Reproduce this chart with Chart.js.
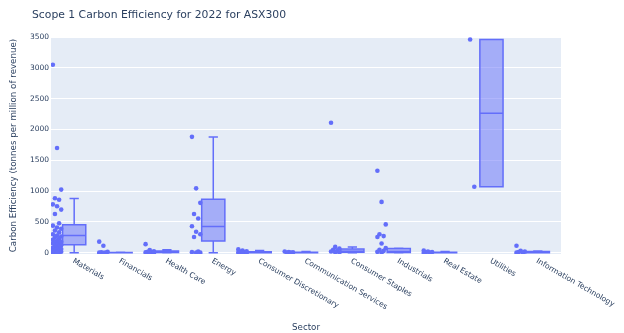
<!DOCTYPE html>
<html>
<head>
<meta charset="utf-8">
<script src="https://cdn.jsdelivr.net/npm/chart.js@4.4.1/dist/chart.umd.min.js"></script>
<style>
  html, body { margin: 0; padding: 0; background: #fff; }
  #wrap { width: 624px; height: 333px; }
</style>
</head>
<body>
<div id="wrap"><canvas id="chartScope1" width="624" height="333"></canvas></div>
<script>
// Scope 1 carbon efficiency by sector, ASX300, 2022
const TITLE = 'Scope 1 Carbon Efficiency for 2022 for ASX300';
const Y_TITLE = 'Carbon Efficiency (tonnes per million of revenue)';
const X_TITLE = 'Sector';

const sectors = [
  'Materials', 'Financials', 'Health Care', 'Energy', 'Consumer Discretionary',
  'Communication Services', 'Consumer Staples', 'Industrials', 'Real Estate',
  'Utilities', 'Information Technology',
];

// company-level values per sector
const materials = [3050, 1700, 1025, 885, 860, 785, 755, 700, 630, 480, 440, 410, 390, 360,
  330, 300, 280, 265, 250, 230, 210, 195, 180, 170, 160, 150, 135, 120, 105, 95, 80, 70,
  60, 50, 40, 30, 25, 18, 12, 8, 5, 2];
const financials = [180, 115, 15, 8, 4, 2, 1];
const healthCare = [140, 45, 25, 15, 10, 6, 3, 1];
const energy = [1880, 1045, 810, 630, 555, 430, 340, 300, 255, 20, 10, 5, 2];
const consumerDiscretionary = [55, 35, 25, 15, 10, 6, 3, 1];
const communicationServices = [20, 12, 8, 5, 2];
const consumerStaples = [2110, 95, 70, 50, 35, 20, 10, 5];
const industrials = [1330, 825, 460, 300, 270, 255, 150, 75, 50, 30, 15, 5];
const realEstate = [35, 20, 12, 8, 4, 1];
const utilities = [3460, 1070];
const infoTech = [115, 30, 18, 10, 5, 2];

const sectorValues = [materials, financials, healthCare, energy, consumerDiscretionary,
  communicationServices, consumerStaples, industrials, realEstate, utilities, infoTech];

// box statistics per sector
const lowerFence = [0, 0, 0, 0, 0, 0, 0, 0, 0, 1070, 0];
const q1 = [130, 0.5, 3, 190, 2, 2, 10, 3, 1, 1070, 1];
const median = [282, 2, 10, 428, 6, 5, 25, 20, 4, 2265, 5];
const q3 = [456, 5, 28, 870, 15, 10, 60, 68, 10, 3460, 20];
const upperFence = [880, 10, 50, 1878, 35, 20, 93, 75, 20, 3460, 30];

const yTicks = [0, 500, 1000, 1500, 2000, 2500, 3000, 3500];

// ─── Style ────────────────────────────────────────────────────────────────────
const BLUE = '#636efa';
const BOX_FILL = 'rgba(99,110,250,0.5)';
const TEXT = '#2a3f5f';
const FONT = '"DejaVu Sans", Verdana, sans-serif';
const BOX_HALF = 0.25;    // category units
const CAP_HALF = 0.1;
const POINT_POS = -0.37;

// small deterministic spread so overlapping points stay visible
function jitter(j) {
  return (((j * 7) % 5) - 2) * 0.045;
}

const points = [];
sectorValues.forEach((vals, i) => {
  vals.forEach((v, j) => points.push({ x: i + POINT_POS + jitter(j), y: v }));
});

// ─── Plugins ──────────────────────────────────────────────────────────────────
const plotBackground = {
  id: 'plotBackground',
  beforeDraw(chart) {
    const { ctx, chartArea: a } = chart;
    ctx.save();
    ctx.fillStyle = '#E5ECF6';
    ctx.fillRect(a.left, a.top, a.right - a.left, a.bottom - a.top);
    ctx.restore();
  },
};

const boxes = {
  id: 'boxes',
  beforeDatasetsDraw(chart) {
    const { ctx } = chart;
    const xs = chart.scales.x, ys = chart.scales.y;
    ctx.save();
    ctx.strokeStyle = BLUE;
    ctx.lineWidth = 1.5;
    sectors.forEach((s, i) => {
      const l = xs.getPixelForValue(i - BOX_HALF);
      const r = xs.getPixelForValue(i + BOX_HALF);
      const c = xs.getPixelForValue(i);
      const cl = xs.getPixelForValue(i - CAP_HALF);
      const cr = xs.getPixelForValue(i + CAP_HALF);
      const yq1 = ys.getPixelForValue(q1[i]);
      const yq3 = ys.getPixelForValue(q3[i]);
      const ym = ys.getPixelForValue(median[i]);
      const ylo = ys.getPixelForValue(lowerFence[i]);
      const yhi = ys.getPixelForValue(upperFence[i]);

      ctx.fillStyle = BOX_FILL;
      ctx.fillRect(l, yq3, r - l, yq1 - yq3);
      ctx.beginPath();
      ctx.rect(l, yq3, r - l, yq1 - yq3);
      // median
      ctx.moveTo(l, ym); ctx.lineTo(r, ym);
      // whiskers + caps
      ctx.moveTo(c, yq3); ctx.lineTo(c, yhi);
      ctx.moveTo(cl, yhi); ctx.lineTo(cr, yhi);
      ctx.moveTo(c, yq1); ctx.lineTo(c, ylo);
      ctx.moveTo(cl, ylo); ctx.lineTo(cr, ylo);
      ctx.stroke();
    });
    ctx.restore();
  },
};

const texts = {
  id: 'texts',
  afterDraw(chart) {
    const { ctx } = chart;
    const xs = chart.scales.x;
    const base = chart.chartArea.bottom;
    ctx.save();
    ctx.fillStyle = TEXT;
    // title
    ctx.font = `10.8px ${FONT}`;
    ctx.textAlign = 'left';
    ctx.textBaseline = 'middle';
    ctx.fillText(TITLE, 32, 15);
    // category labels, rotated 30°
    ctx.font = `7.6px ${FONT}`;
    sectors.forEach((s, i) => {
      const x = xs.getPixelForValue(i);
      ctx.save();
      ctx.translate(x - 1, base + 6.5);
      ctx.rotate(Math.PI / 6);
      ctx.fillText(s, 0, 0);
      ctx.restore();
    });
    ctx.restore();
  },
};

// ─── Chart ────────────────────────────────────────────────────────────────────
new Chart(document.getElementById('chartScope1').getContext('2d'), {
  type: 'scatter',
  data: {
    datasets: [{
      label: 'Scope 1',
      data: points,
      backgroundColor: BLUE,
      borderWidth: 0,
      pointRadius: 2.3,
    }],
  },
  options: {
    responsive: false,
    animation: false,
    layout: { padding: { left: 0, right: 63, top: 37, bottom: 0 } },
    plugins: {
      legend: { display: false },
      tooltip: { enabled: false },
    },
    scales: {
      x: {
        type: 'linear',
        min: -0.5,
        max: sectors.length - 0.5,
        grid: { display: false },
        border: { display: false },
        ticks: { display: false },
        title: {
          display: true,
          text: X_TITLE,
          color: TEXT,
          font: { family: FONT, size: 8.7 },
          padding: { top: 6, bottom: 0 },
        },
        afterFit(scale) { scale.height = 79; },
      },
      y: {
        min: -20,
        max: 3500,
        afterBuildTicks(scale) { scale.ticks = yTicks.map(v => ({ value: v })); },
        grid: { color: '#ffffff', lineWidth: 1, drawTicks: false },
        border: { display: false },
        ticks: {
          color: TEXT,
          padding: 2,
          font: { family: FONT, size: 7.5 },
          callback: v => String(v),
        },
        title: {
          display: true,
          text: Y_TITLE,
          color: TEXT,
          font: { family: FONT, size: 8.7 },
          padding: { top: 9, bottom: 0 },
        },
        afterFit(scale) { scale.width = 51; },
      },
    },
  },
  plugins: [plotBackground, boxes, texts],
});
</script>
</body>
</html>
